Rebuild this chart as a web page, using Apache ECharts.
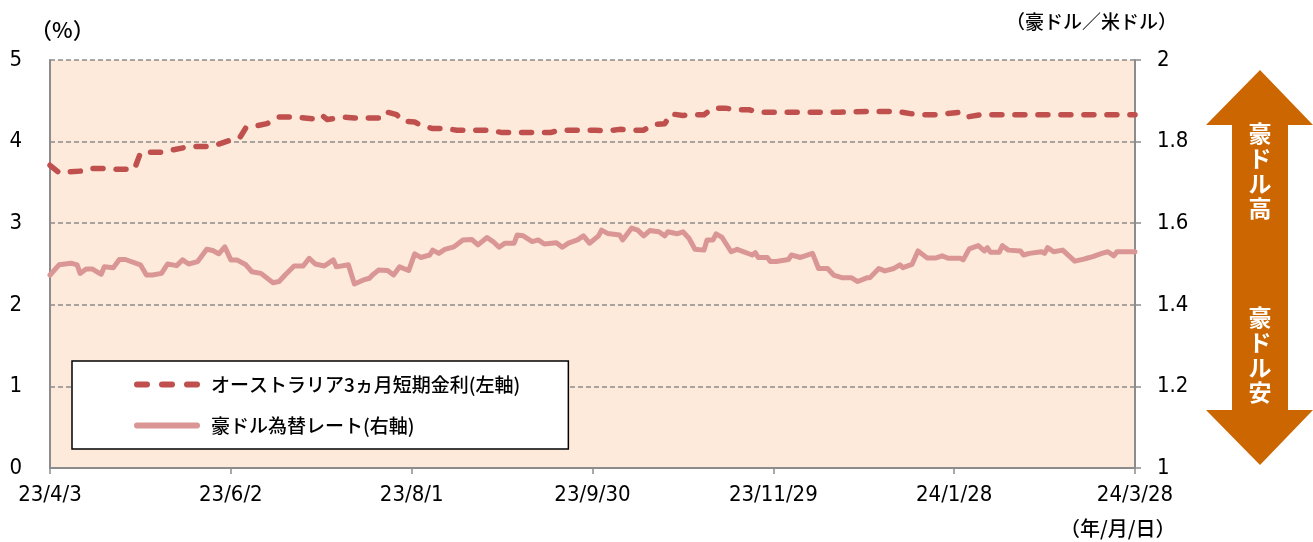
<!DOCTYPE html>
<html>
<head>
<meta charset="utf-8">
<script src="https://cdn.jsdelivr.net/npm/echarts@6/dist/echarts.min.js"></script>
<style>
  html, body { margin: 0; padding: 0; background: #fff; }
  #chart { width: 1313px; height: 542px; }
</style>
</head>
<body>
<div id="chart"></div>
<script>
// x positions are days counted from 2023-04-03
var xTickLabels = ['23/4/3', '23/6/2', '23/8/1', '23/9/30', '23/11/29', '24/1/28', '24/3/28'];

// オーストラリア3ヵ月短期金利 (%), left axis
var rateDays = [0, 3, 6, 11, 14, 18, 22, 25, 28, 30, 32, 37, 41, 45, 48, 52, 56, 60, 63, 65,
  68, 72, 76, 79, 82, 87, 90, 92, 97, 101, 104, 109, 111, 115, 117, 121, 123, 127, 131, 135,
  138, 142, 146, 150, 153, 158, 161, 166, 169, 174, 181, 185, 189, 193, 197, 200, 204, 206, 210, 213,
  217, 220, 224, 228, 232, 235, 247, 255, 262, 271, 278, 281, 286, 289, 294, 297, 302, 304, 309, 317, 360];
var rateValues = [3.71, 3.62, 3.63, 3.64, 3.67, 3.67, 3.66, 3.66, 3.66, 3.86, 3.87, 3.87, 3.90, 3.93, 3.94, 3.94, 3.97, 4.02, 4.05, 4.17,
  4.19, 4.22, 4.30, 4.30, 4.30, 4.28, 4.33, 4.27, 4.30, 4.29, 4.29, 4.29, 4.37, 4.33, 4.25, 4.24, 4.20, 4.16, 4.16, 4.14,
  4.14, 4.14, 4.14, 4.11, 4.11, 4.11, 4.11, 4.11, 4.14, 4.14, 4.14, 4.13, 4.15, 4.14, 4.14, 4.21, 4.22, 4.34, 4.32, 4.33,
  4.33, 4.41, 4.41, 4.39, 4.39, 4.36, 4.36, 4.36, 4.36, 4.37, 4.37, 4.37, 4.34, 4.33, 4.33, 4.34, 4.36, 4.30, 4.33, 4.33, 4.33];

// 豪ドル為替レート (豪ドル/米ドル), right axis
var fxDays = [0, 3, 7, 9, 10, 12, 14, 16, 17, 18, 21, 23, 25, 30, 32, 34, 37, 39, 42, 44,
  46, 49, 52, 54, 56, 58, 60, 62, 65, 67, 70, 74, 76, 78, 81, 84, 86, 88, 91, 94,
  95, 99, 101, 104, 106, 107, 109, 112, 114, 116, 119, 121, 123, 126, 127, 129, 131, 134, 137, 140,
  142, 145, 147, 149, 151, 154, 155, 157, 160, 162, 164, 168, 170, 172, 175, 177, 179, 182, 183, 185,
  189, 190, 193, 195, 197, 199, 202, 204, 205, 208, 210, 212, 214, 217, 218, 220, 221, 223, 226, 228,
  233, 234, 235, 238, 239, 241, 245, 246, 249, 253, 255, 258, 260, 263, 266, 268, 271, 272, 275, 277,
  280, 282, 283, 286, 288, 291, 294, 296, 298, 302, 303, 305, 308, 310, 311, 312, 315, 316, 318, 322,
  323, 325, 329, 330, 331, 333, 336, 340, 343, 344, 346, 349, 351, 353, 354, 360];
var fxValues = [1.473, 1.498, 1.502, 1.498, 1.477, 1.488, 1.488, 1.479, 1.475, 1.493, 1.491, 1.511, 1.511, 1.498, 1.473, 1.473, 1.477, 1.500, 1.496, 1.510,
  1.500, 1.506, 1.536, 1.533, 1.525, 1.542, 1.510, 1.510, 1.498, 1.481, 1.477, 1.454, 1.457, 1.473, 1.495, 1.495, 1.514, 1.500, 1.495, 1.510,
  1.493, 1.498, 1.451, 1.461, 1.465, 1.473, 1.485, 1.484, 1.473, 1.493, 1.484, 1.525, 1.516, 1.522, 1.534, 1.526, 1.536, 1.542, 1.559, 1.560,
  1.547, 1.565, 1.555, 1.541, 1.551, 1.551, 1.571, 1.569, 1.555, 1.559, 1.549, 1.552, 1.541, 1.551, 1.559, 1.569, 1.551, 1.569, 1.583, 1.575,
  1.571, 1.559, 1.588, 1.583, 1.569, 1.582, 1.579, 1.569, 1.579, 1.574, 1.579, 1.563, 1.536, 1.534, 1.559, 1.559, 1.574, 1.565, 1.530, 1.536,
  1.522, 1.528, 1.516, 1.516, 1.506, 1.506, 1.511, 1.522, 1.516, 1.526, 1.489, 1.489, 1.473, 1.466, 1.466, 1.457, 1.466, 1.466, 1.489, 1.483,
  1.489, 1.498, 1.491, 1.499, 1.532, 1.515, 1.515, 1.520, 1.514, 1.514, 1.510, 1.537, 1.545, 1.532, 1.540, 1.529, 1.529, 1.545, 1.534, 1.532,
  1.522, 1.526, 1.530, 1.526, 1.540, 1.530, 1.534, 1.507, 1.512, 1.514, 1.518, 1.526, 1.530, 1.520, 1.530, 1.530];

var RATE_NAME = 'オーストラリア3ヵ月短期金利(左軸)';
var FX_NAME = '豪ドル為替レート(右軸)';

var numFont = "'Liberation Sans Narrow', 'DejaVu Sans Condensed', sans-serif";
var jpFont = "'Noto Sans CJK JP', sans-serif";
var axisGray = '#8c8c8c';

// legend samples: three rounded dashes / one rounded bar
var dashIcon = 'path://M3,0h10a3,3 0 0 1 0,6h-10a3,3 0 0 1 0,-6z' +
  'M28,0h10a3,3 0 0 1 0,6h-10a3,3 0 0 1 0,-6z' +
  'M53,0h10a3,3 0 0 1 0,6h-10a3,3 0 0 1 0,-6z';
var barIcon = 'path://M3,0h60a3,3 0 0 1 0,6h-60a3,3 0 0 1 0,-6z';

function pairs(xs, ys) {
  return xs.map(function (x, i) { return [x, ys[i]]; });
}

var chart = echarts.init(document.getElementById('chart'));

var option = {
  animation: false,
  grid: {
    left: 50, right: 178, top: 60, bottom: 74,
    show: true, backgroundColor: '#FDEADA', borderWidth: 0
  },
  xAxis: {
    type: 'value',
    min: 0, max: 360, interval: 60,
    axisLine: { show: true, lineStyle: { color: axisGray, width: 2 } },
    axisTick: { show: true, length: 6, lineStyle: { color: axisGray, width: 1.5 } },
    splitLine: { show: false },
    axisLabel: {
      margin: 16, color: '#000', fontSize: 22, fontFamily: numFont,
      formatter: function (v) { return xTickLabels[Math.round(v / 60)]; }
    }
  },
  yAxis: [
    {
      type: 'value', min: 0, max: 5, interval: 1,
      axisLine: { show: true, lineStyle: { color: axisGray, width: 2 } },
      axisTick: { show: false },
      splitLine: { show: true, lineStyle: { color: axisGray, width: 1.5, type: [5, 3] } },
      axisLabel: { margin: 28, color: '#000', fontSize: 22, fontFamily: numFont }
    },
    {
      type: 'value', min: 1, max: 2, interval: 0.2,
      position: 'right',
      axisLine: { show: true, lineStyle: { color: axisGray, width: 2 } },
      axisTick: { show: true, length: 6, lineStyle: { color: axisGray, width: 1.5 } },
      splitLine: { show: false },
      axisLabel: {
        margin: 22, color: '#000', fontSize: 22, fontFamily: numFont,
        formatter: function (v) { return String(+v.toFixed(1)); }
      }
    }
  ],
  legend: {
    orient: 'vertical',
    left: 72, top: 361,
    itemWidth: 66, itemHeight: 6, itemGap: 22,
    padding: [14, 48, 14, 62],
    backgroundColor: '#fff', borderColor: '#000', borderWidth: 1.5,
    textStyle: { color: '#000', fontSize: 19, fontWeight: 500, fontFamily: jpFont, padding: [0, 0, 0, 6] },
    data: [
      { name: RATE_NAME, icon: dashIcon },
      { name: FX_NAME, icon: barIcon }
    ]
  },
  series: [
    {
      name: RATE_NAME,
      type: 'line',
      yAxisIndex: 0,
      showSymbol: false, symbol: 'none',
      lineStyle: { color: '#C0504D', width: 5.5, type: [10, 13], cap: 'round', join: 'round' },
      itemStyle: { color: '#C0504D' },
      data: pairs(rateDays, rateValues),
      z: 3
    },
    {
      name: FX_NAME,
      type: 'line',
      yAxisIndex: 1,
      showSymbol: false, symbol: 'none',
      lineStyle: { color: '#D99694', width: 5, cap: 'round', join: 'round' },
      itemStyle: { color: '#D99694' },
      data: pairs(fxDays, fxValues),
      z: 2
    }
  ],
  graphic: [
    { type: 'text', x: 30, y: 30, style: { text: '（%）', font: '500 22px ' + jpFont, fill: '#000', textVerticalAlign: 'middle' } },
    { type: 'text', x: 1006, y: 22, style: { text: '（豪ドル／米ドル）', font: '500 19px ' + jpFont, fill: '#000', textVerticalAlign: 'middle' } },
    { type: 'text', x: 1060, y: 528, style: { text: '（年/月/日）', font: '500 20px ' + jpFont, fill: '#000', textVerticalAlign: 'middle' } },
    {
      type: 'polygon',
      shape: { points: [[1260, 70], [1313, 125], [1288, 125], [1288, 410], [1313, 410], [1260, 465], [1206, 410], [1232, 410], [1232, 125], [1206, 125]] },
      style: { fill: '#CC6600' }
    },
    { type: 'text', x: 1260, y: 121, style: { text: '豪\nド\nル\n高', font: 'bold 23px ' + jpFont, fill: '#fff', textAlign: 'center', lineHeight: 25 } },
    { type: 'text', x: 1260, y: 305, style: { text: '豪\nド\nル\n安', font: 'bold 23px ' + jpFont, fill: '#fff', textAlign: 'center', lineHeight: 25 } }
  ]
};

chart.setOption(option);
</script>
</body>
</html>
